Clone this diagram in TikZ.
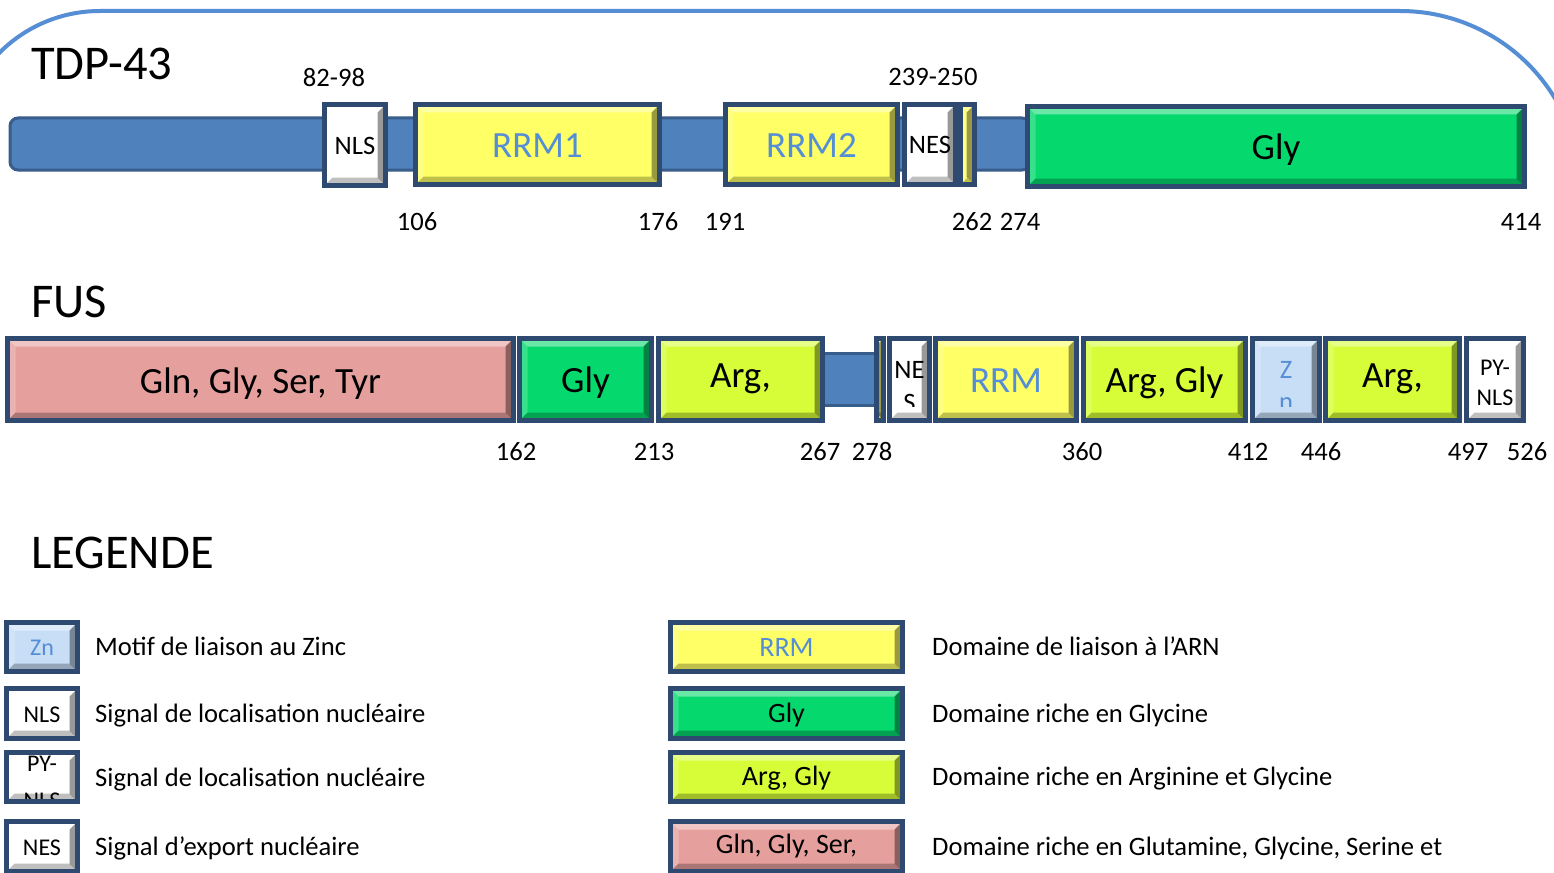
\documentclass[tikz,border=0pt]{standalone}
\usepackage{fontspec}
\setmainfont{Carlito}
\usepackage{xcolor}

\definecolor{domline}{RGB}{46,74,112}
\definecolor{barfill}{RGB}{79,129,189}
\definecolor{barline}{RGB}{56,93,138}
\definecolor{rrmY}{RGB}{255,255,102}
\definecolor{glyG}{RGB}{5,217,110}
\definecolor{argY}{RGB}{214,253,55}
\definecolor{glnP}{RGB}{229,160,158}
\definecolor{znB}{RGB}{200,222,247}
\definecolor{txtB}{RGB}{85,142,213}

\newcommand{\fsmall}{\fontsize{26.6}{32}\selectfont}
\newcommand{\fxs}{\fontsize{24}{29}\selectfont}
\newcommand{\flgb}{\fontsize{28}{34}\selectfont}
\newcommand{\fmid}{\fontsize{37}{44}\selectfont}
\newcommand{\ftitle}{\fontsize{48.5}{58}\selectfont}

% bevel of the domain boxes
\newcommand{\bevel}{%
  \fill[white,opacity=.4] (path picture bounding box.north west) -- (path picture bounding box.north east)
    -- ([shift={(-8pt,-8pt)}]path picture bounding box.north east) -- ([shift={(8pt,-8pt)}]path picture bounding box.north west) -- cycle;
  \fill[white,opacity=.2] (path picture bounding box.north west) -- (path picture bounding box.south west)
    -- ([shift={(8pt,8pt)}]path picture bounding box.south west) -- ([shift={(8pt,-8pt)}]path picture bounding box.north west) -- cycle;
  \fill[black,opacity=.25] (path picture bounding box.south west) -- (path picture bounding box.south east)
    -- ([shift={(-8pt,8pt)}]path picture bounding box.south east) -- ([shift={(8pt,8pt)}]path picture bounding box.south west) -- cycle;
  \fill[black,opacity=.4] (path picture bounding box.north east) -- (path picture bounding box.south east)
    -- ([shift={(-8pt,8pt)}]path picture bounding box.south east) -- ([shift={(-8pt,-8pt)}]path picture bounding box.north east) -- cycle;
}

% name, x1, x2, y1, y2, options, text
\newcommand{\domain}[7]{%
  \node[dom,#6,minimum width={#3-#2-5},minimum height={#5-#4-5}] (#1) at ({(#2+#3)/2},{(#4+#5)/2}) {#7};}

\tikzset{
  dom/.style={draw=domline, line width=5pt, inner sep=0pt, outer sep=0pt, text depth=0pt, path picture=\bevel},
  sml/.style={font=\fsmall, text height=19pt},
  xs/.style={font=\fxs, text height=17pt},
  lgb/.style={font=\flgb, text height=18pt},
  mid/.style={font=\fmid, text height=26pt},
  bar/.style={draw=barline, fill=barfill, line width=3pt, rounded corners=8pt},
  frame/.style={draw=txtB, line width=4pt},
  ttl/.style={font=\ftitle, anchor=base west, inner sep=0pt},
  num/.style={font=\fsmall, anchor=base, inner sep=0pt},
  leg/.style={font=\fsmall, anchor=base west, inner sep=0pt},
  inl/.style={anchor=base, inner sep=0pt, draw=none, fill=none}
}

\begin{document}
\begin{tikzpicture}[x=1pt,y=-1pt]
  \useasboundingbox (0,0) rectangle (1554,872);
  \fill[white] (0,0) rectangle (1554,872);

  % frame
  \draw[frame] (-42,153) arc[start angle=180,end angle=90,radius=142pt] -- (1400,11)
    arc[start angle=90,end angle=0,radius=181pt];

  % TDP-43
  \node[ttl] (tdp) at (31,80) {TDP-43};
  \draw[bar] (10,118) rectangle (1030,170);
  \domain{tnls}{322}{388}{102}{188}{fill=white,sml}{NLS}
  \domain{trrm1}{413}{662}{102}{187}{fill=rrmY,mid,text=txtB}{RRM1}
  \domain{trrm2}{723}{900}{102}{187}{fill=rrmY,mid,text=txtB}{RRM2}
  \domain{tnes}{902}{958}{102}{187}{fill=white,sml,text height=18pt}{NES}
  \domain{tylw}{958}{977}{102}{187}{fill=rrmY}{}
  \domain{tgly}{1025}{1527}{104}{189}{fill=glyG,mid}{Gly}

  \node[num] (tnlspos) at (334,87) {82-98};
  \node[num] (tnespos) at (933,86) {239-250};
  \foreach \x/\n in {417/106,658/176,725/191,972/262,1020/274,1521/414}
    \node[num] (t\n) at (\x,230) {\n};

  % FUS
  \node[ttl] (fus) at (31,317) {FUS};
  \draw[bar,rounded corners=0pt] (820,353) rectangle (877,405);
  \domain{fgln}{5}{516}{336}{423}{fill=glnP,mid,text height=27pt}{Gln, Gly, Ser, Tyr}
  \domain{fgly}{517}{654}{336}{423}{fill=glyG,mid}{Gly}
  \domain{farg1}{656}{825}{336}{423}{fill=argY,mid,text height=15pt}{Arg,}
  \domain{fylw}{874}{886}{336}{423}{fill=rrmY}{}
  \domain{fnes}{887}{932}{336}{423}{fill=white,path picture={\bevel
      \clip (path picture bounding box.north west) rectangle ([yshift=-67.5pt]path picture bounding box.north east);
      \node[inl,font=\fsmall,text=black] (fnesa) at ([yshift=-39.5pt]path picture bounding box.north) {NE};
      \node[inl,font=\fsmall,text=black] (fnesb) at ([yshift=-73pt]path picture bounding box.north) {S};}}{}
  \domain{frrm}{933}{1079}{336}{423}{fill=rrmY,mid,text=txtB}{RRM}
  \domain{farggly}{1081}{1248}{336}{423}{fill=argY,mid}{Arg, Gly}
  \domain{fzn}{1250}{1322}{336}{423}{fill=znB,path picture={\bevel
      \clip (path picture bounding box.north west) rectangle ([yshift=-67.5pt]path picture bounding box.north east);
      \node[inl,font=\fsmall,text=txtB] (fzna) at ([yshift=-39.5pt]path picture bounding box.north) {Z};
      \node[inl,font=\fsmall,text=txtB] (fznb) at ([yshift=-71.5pt]path picture bounding box.north) {n};}}{}
  \domain{farg2}{1323}{1462}{336}{423}{fill=argY,mid,text height=15pt}{Arg,}
  \domain{fpy}{1464}{1526}{336}{423}{fill=white,path picture={\bevel
      \node[inl,font=\fxs,text=black] (fpya) at ([yshift=-36.5pt]path picture bounding box.north) {PY-};
      \node[inl,font=\fxs,text=black] (fpyb) at ([yshift=-66.5pt]path picture bounding box.north) {NLS};}}{}

  \foreach \x/\n in {516/162,654/213,820/267,872/278,1082/360,1248/412,1321/446,1468/497,1527/526}
    \node[num] (f\n) at (\x,460) {\n};

  % LEGENDE
  \node[ttl] (leg) at (31,568) {LEGENDE};
  \domain{lzn}{4}{80}{620}{674}{fill=znB,xs,text=txtB}{Zn}
  \domain{lnls}{4}{80}{686}{741}{fill=white,xs}{NLS}
  \domain{lpy}{4}{80}{750}{804}{fill=white,path picture={\bevel
      \clip (path picture bounding box.north west) rectangle ([yshift=-46.5pt]path picture bounding box.north east);
      \node[inl,font=\fxs,text=black] (lpya) at ([yshift=-19pt]path picture bounding box.north) {PY-};
      \node[inl,font=\fxs,text=black] (lpyb) at ([yshift=-56pt]path picture bounding box.north) {NLS};}}{}
  \domain{lnes}{4}{80}{819}{874}{fill=white,xs}{NES}

  \domain{lrrm}{668}{905}{620}{674}{fill=rrmY,lgb,text=txtB}{RRM}
  \domain{lgly}{668}{905}{686}{741}{fill=glyG,lgb}{Gly}
  \domain{largly}{668}{905}{750}{804}{fill=argY,lgb,text height=16pt}{Arg, Gly}
  \domain{lgln}{668}{905}{819}{874}{fill=glnP,lgb,text height=13pt}{Gln, Gly, Ser,}

  \node[leg] (dzn) at (95,655) {Motif de liaison au Zinc};
  \node[leg] (dnls) at (95,722) {Signal de localisation nucléaire};
  \node[leg] (dpy) at (95,786) {Signal de localisation nucléaire};
  \node[leg] (dnes) at (95,855) {Signal d’export nucléaire};
  \node[leg] (drrm) at (932,655) {Domaine de liaison à l’ARN};
  \node[leg] (dgly) at (932,722) {Domaine riche en Glycine};
  \node[leg] (dargly) at (932,785) {Domaine riche en Arginine et Glycine};
  \node[leg] (dgln) at (932,855) {Domaine riche en Glutamine, Glycine, Serine et};
\end{tikzpicture}
\end{document}
